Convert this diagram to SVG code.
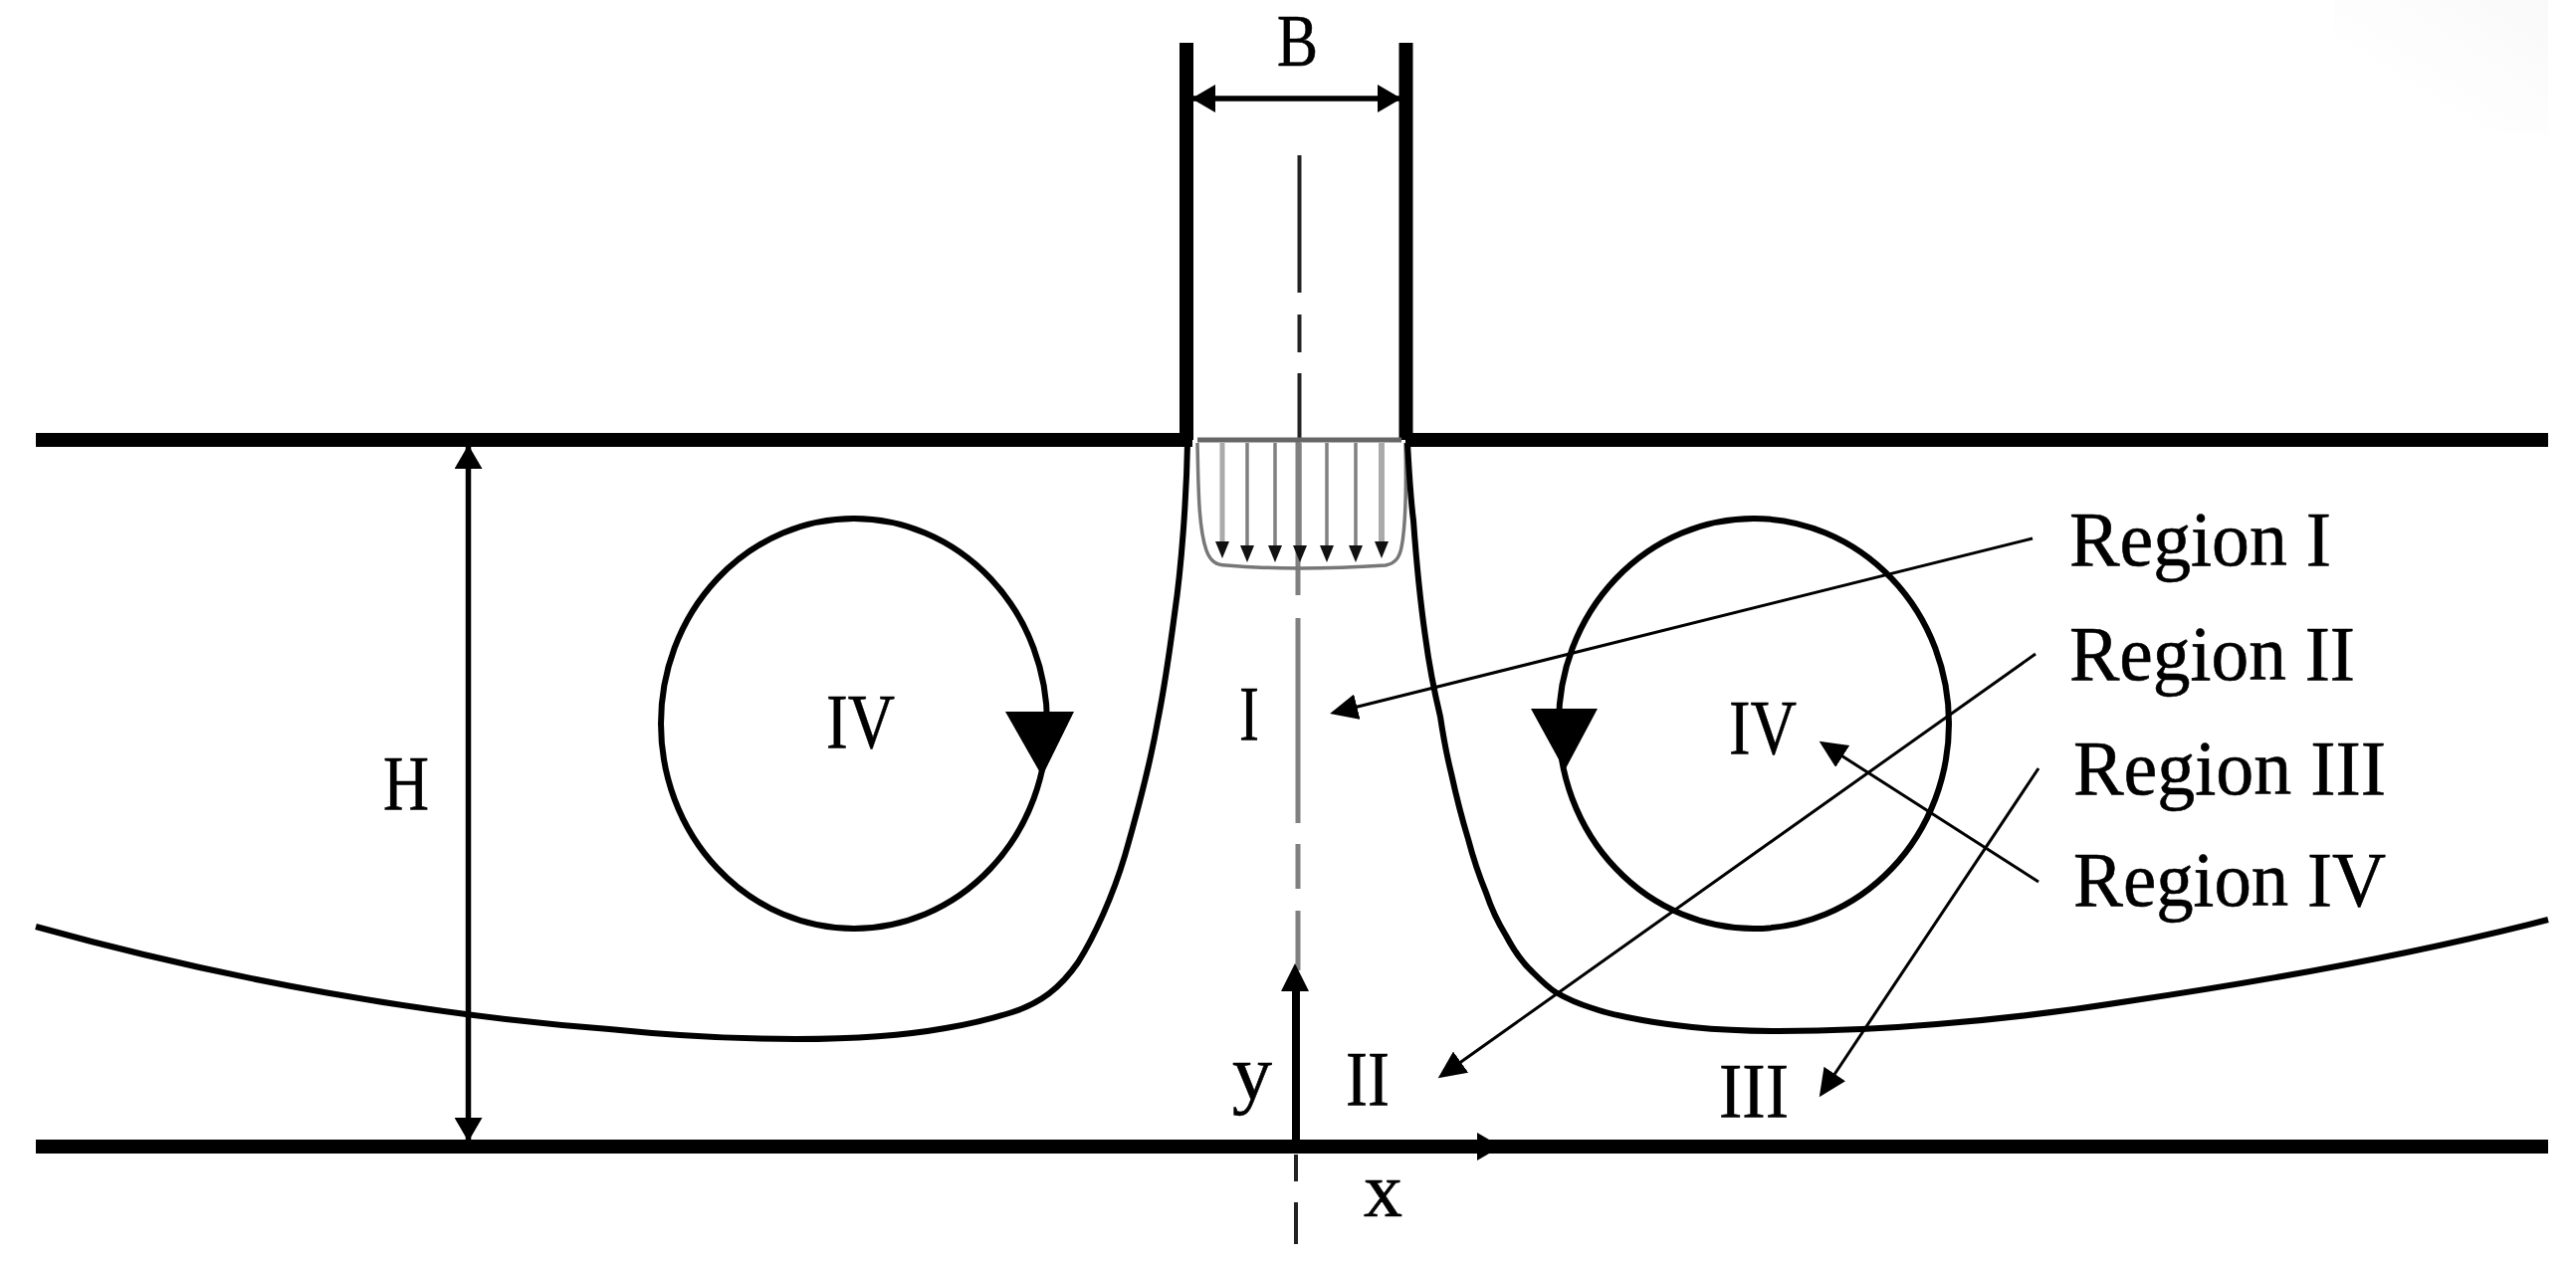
<svg xmlns="http://www.w3.org/2000/svg" width="2588" height="1269" viewBox="0 0 2588 1269">
<style>
text{font-family:"Liberation Serif","Times New Roman",serif;font-size:79px;fill:#000;stroke:#000;stroke-width:.6}
.wall{stroke:#000;stroke-width:14;fill:none}
.curve{stroke:#000;stroke-width:6;fill:none}
.vortex{stroke:#000;stroke-width:6;fill:none}
.dim{stroke:#000;stroke-width:5.5;fill:none;marker-start:url(#dimStart);marker-end:url(#dimEnd)}
.lead{stroke:#000;stroke-width:3;fill:none;marker-end:url(#lead)}
.center{stroke:#808080;stroke-width:5;fill:none}
.vel{stroke:#808080;stroke-width:3.500;fill:none;marker-end:url(#vel)}
.head{fill:#000}
</style>
<defs>
<marker id="dimEnd" markerUnits="userSpaceOnUse" markerWidth="26" markerHeight="28" refX="22" refY="14" orient="auto"><path d="M0,0L24,14L0,28z" fill="#000"/></marker>
<marker id="dimStart" markerUnits="userSpaceOnUse" markerWidth="26" markerHeight="28" refX="2" refY="14" orient="auto"><path d="M24,0L0,14L24,28z" fill="#000"/></marker>
<marker id="lead" markerUnits="userSpaceOnUse" markerWidth="30" markerHeight="26" refX="24" refY="13" orient="auto"><path d="M0,0L28,13L0,26z" fill="#000"/></marker>
<marker id="vel" markerUnits="userSpaceOnUse" markerWidth="18" markerHeight="14" refX="0" refY="7" orient="auto"><path d="M0,0L17,7L0,14z" fill="#111"/></marker>
<linearGradient id="corner" x1="1" y1="0" x2="0" y2="1"><stop offset="0" stop-color="#f9f9f9"/><stop offset=".7" stop-color="#fff"/></linearGradient>
</defs>
<rect width="2588" height="1269" fill="#fff"/>
<rect x="2345" y="0" width="215" height="135" fill="url(#corner)"/>

<g id="centerline">
<path class="center" style="stroke:#222;stroke-width:4" d="M1305.500,156V294M1305.500,316V354M1305.500,375V442"/>
<path class="center" d="M1304,442V598M1304,621V827M1304,848V893M1304,915V975"/>
<path class="center" style="stroke:#222;stroke-width:4" d="M1302,1160V1187M1302,1208V1250"/>
</g>

<g id="walls">
<path class="wall" d="M1192,43V442"/>
<path class="wall" d="M1412.500,43V442"/>
<path class="wall" d="M36,442H1198"/>
<path class="wall" d="M1412,442H2560"/>
<path class="wall" d="M36,1152H2560"/>
</g>

<g id="velocity-profile">
<path d="M1203,442H1408" stroke="#666" stroke-width="5" fill="none"/>
<path d="M1203,445C1204,490 1204,530 1212,553C1216,564 1222,568 1232,568Q1300,574 1392,568C1402,566 1406,560 1408,550C1412,530 1413,490 1412,445" stroke="#777" stroke-width="3.500" fill="none"/>
<path class="vel" style="stroke:#aaa;stroke-width:5" d="M1228,445V544"/>
<path class="vel" d="M1253,445V548"/>
<path class="vel" d="M1281,445V548"/>
<path class="vel" d="M1306,445V548"/>
<path class="vel" d="M1333,445V548"/>
<path class="vel" d="M1362,445V548"/>
<path class="vel" style="stroke:#aaa;stroke-width:6" d="M1388,445V544"/>
</g>

<g id="streamlines">
<path class="curve" d="M36,931C230,985 430,1020 612,1034C680,1041 740,1044 800,1044C850,1044 900,1042 950,1033C975,1029 995,1024 1017,1017C1045,1008 1065,993 1083,967C1100,940 1118,900 1130,860C1143,815 1155,770 1163,725C1170,690 1175,655 1180,617C1187,570 1192,500 1193,445"/>
<path class="curve" d="M1414,445C1416,480 1417,500 1420,523C1423,565 1427,605 1432,640C1436,670 1441,695 1447,720C1450,740 1453,757 1458,777C1463,800 1468,820 1475,843C1480,862 1486,880 1493,897C1498,912 1505,927 1513,940C1521,955 1530,968 1540,977C1548,985 1555,992 1563,997C1575,1004 1587,1009 1600,1013C1617,1019 1633,1022 1650,1025C1667,1028 1683,1030 1700,1032C1730,1035 1760,1036 1787,1036C1840,1036 1900,1033 1946,1029C2010,1024 2075,1016 2138,1006C2280,985 2420,960 2560,924"/>
</g>

<g id="vortex-left">
<ellipse class="vortex" cx="858" cy="727" rx="194" ry="206"/>
<polygon class="head" points="1010,715 1079,715 1047,780"/>
<text x="830" y="751" textLength="69" lengthAdjust="spacingAndGlyphs">IV</text>
</g>
<g id="vortex-right">
<ellipse class="vortex" cx="1762" cy="727" rx="196" ry="206"/>
<polygon class="head" points="1538,712 1605,712 1572,774"/>
<text x="1737" y="757" textLength="68" lengthAdjust="spacingAndGlyphs">IV</text>
</g>

<g id="connectors">
<path class="dim" d="M1199,99H1406"/>
<path class="dim" d="M470.500,449V1145"/>
<path d="M1302,1152V990" stroke="#000" stroke-width="8" fill="none"/>
<polygon class="head" points="1301,968 1315,996 1287,996"/>
<polygon class="head" points="1484,1138 1508,1152 1484,1166"/>
<path class="lead" d="M2042,541L1340,716"/>
<path class="lead" d="M2045,657L1448,1081"/>
<path class="lead" d="M2048,772L1830,1099"/>
<path class="lead" d="M2048,886L1831,747"/>
</g>

<g id="label-B"><text x="1283" y="66" textLength="41" lengthAdjust="spacingAndGlyphs" style="font-size:74px">B</text></g>
<g id="label-H"><text x="385" y="813" textLength="46" lengthAdjust="spacingAndGlyphs">H</text></g>
<g id="label-I"><text x="1245" y="743" textLength="20" lengthAdjust="spacingAndGlyphs">I</text></g>
<g id="label-II"><text x="1352" y="1110" textLength="44" lengthAdjust="spacingAndGlyphs">II</text></g>
<g id="label-III"><text x="1727" y="1122" textLength="70" lengthAdjust="spacingAndGlyphs">III</text></g>
<g id="label-x"><text x="1370" y="1222" textLength="39" lengthAdjust="spacingAndGlyphs">x</text></g>
<g id="label-y"><text x="1238" y="1104" textLength="40" lengthAdjust="spacingAndGlyphs">y</text></g>
<g id="label-region-1"><text x="2079" y="568" textLength="263" lengthAdjust="spacingAndGlyphs">Region I</text></g>
<g id="label-region-2"><text x="2079" y="683" textLength="287" lengthAdjust="spacingAndGlyphs">Region II</text></g>
<g id="label-region-3"><text x="2083" y="798" textLength="314" lengthAdjust="spacingAndGlyphs">Region III</text></g>
<g id="label-region-4"><text x="2083" y="910" textLength="314" lengthAdjust="spacingAndGlyphs">Region IV</text></g>
</svg>
